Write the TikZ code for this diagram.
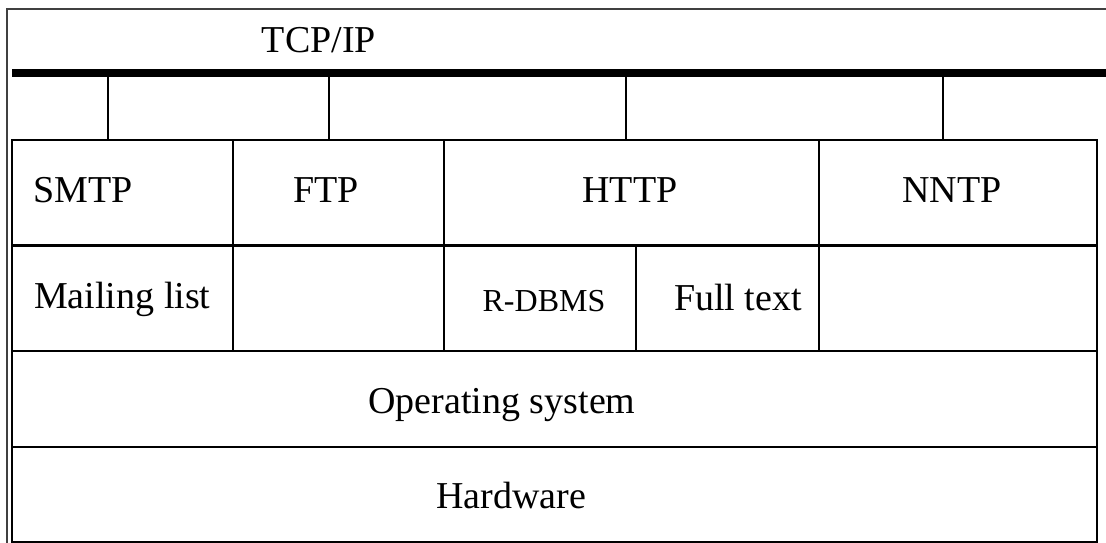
\documentclass[tikz,border=0pt]{standalone}
\usepackage{fontspec}
\setmainfont{Liberation Serif}
\begin{document}
\begin{tikzpicture}[x=1pt,y=-1pt,
  frame/.style={draw=black!75,line width=2pt},
  grid/.style={draw=black,line width=2.5pt},
  lbl/.style={inner sep=0pt,anchor=base,font=\fontsize{38}{40}\selectfont},
  lblsmall/.style={inner sep=0pt,anchor=base,font=\fontsize{32}{34}\selectfont}]
\useasboundingbox (0,0) rectangle (1106,543);
\clip (0,0) rectangle (1106,543);
% outer frame
\draw[frame] (6.5,560) -- (6.5,9.5) -- (1120,9.5);
% TCP/IP bus
\fill (12,69) rectangle (1120,77);
\node[lbl] (tcp) at (319,53) {TCP/IP};
% drops from bus
\coordinate (d1) at (108,77);
\coordinate (d2) at (329,77);
\coordinate (d3) at (626,77);
\coordinate (d4) at (943,77);
\draw[grid] (d1) -- ++(0,63);
\draw[grid] (d2) -- ++(0,63);
\draw[grid] (d3) -- ++(0,63);
\draw[grid] (d4) -- ++(0,63);
% table
\draw[grid] (12,140) rectangle (1097,542);
\draw[grid] (12,245.5) -- (1097,245.5);
\draw[grid] (12,351) -- (1097,351);
\draw[grid] (12,447) -- (1097,447);
\draw[grid] (233,140) -- (233,351);
\draw[grid] (444,140) -- (444,351);
\draw[grid] (819,140) -- (819,351);
\draw[grid] (636,245.5) -- (636,351);
% labels
\node[lbl,anchor=base west] (smtp) at (33,202) {SMTP};
\node[lbl] (ftp) at (326,202) {FTP};
\node[lbl] (http) at (630,202) {HTTP};
\node[lbl] (nntp) at (952,202) {NNTP};
\node[lbl,anchor=base west] (mail) at (34,308) {Mailing list};
\node[lblsmall] (rdbms) at (544,311) {R-DBMS};
\node[lbl] (full) at (738,310) {Full text};
\node[lbl] (os) at (502,413) {Operating system};
\node[lbl] (hw) at (511,508) {Hardware};
\end{tikzpicture}
\end{document}
